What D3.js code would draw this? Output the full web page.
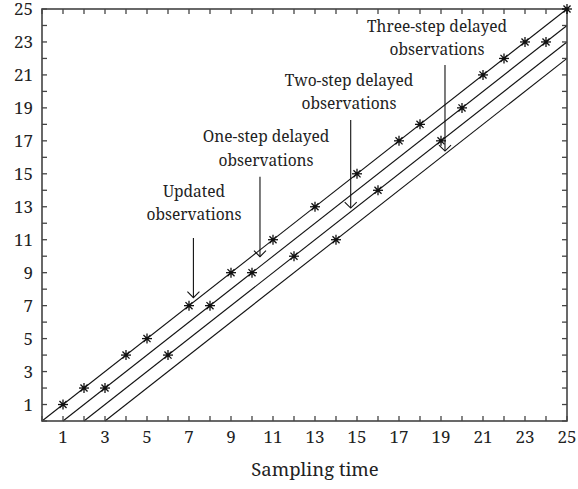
<!DOCTYPE html>
<html><head><meta charset="utf-8">
<script src="https://cdn.jsdelivr.net/npm/d3@7"></script>
<style>body{margin:0;background:#fff}svg{display:block}</style>
</head><body><svg id="c" width="578" height="489"></svg>
<script>
// Data
const sampleTimes = [1,2,3,4,5,6,7,8,9,10,11,12,13,14,15,16,17,18,19,20,21,22,23,24,25];
const observations = [1,2,2,4,5,4,7,7,9,9,11,10,13,11,15,14,17,18,17,19,21,22,23,23,25];
const delays = [0,1,2,3];
const xTickLabels = [1,3,5,7,9,11,13,15,17,19,21,23,25];
const yTickLabels = [1,3,5,7,9,11,13,15,17,19,21,23,25];
const xLabel = "Sampling time";
const annLines1 = ["Updated","One-step delayed","Two-step delayed","Three-step delayed"];
const annLines2 = ["observations","observations","observations","observations"];
const annArrowX = [7.21,10.38,14.7,19.19];
const annArrowTop = [11.10,14.82,18.26,21.60];
const annArrowTip = [7.48,9.97,12.92,16.38];
const annTextX = [7.24,10.67,14.62,18.81];
const annBase1 = [13.61,16.91,20.33,23.63];
const annBase2 = [12.20,15.49,18.91,22.21];

const svg = d3.select("#c");
const L=42,R=567,T=9,B=421;
const x = d3.scaleLinear().domain([0,25]).range([L,R]);
const y = d3.scaleLinear().domain([0,25]).range([B,T]);
const axisColor="#444";

function label(px,py,str,size,anchor){
  return svg.append("text").attr("x",px).attr("y",py).attr("text-anchor",anchor)
    .attr("font-family","Noto Serif").attr("font-size",size).attr("fill","#222").text(String(str));
}

// diagonal lines
delays.forEach(d=>{
  svg.append("line").attr("x1",x(d)).attr("y1",y(0)).attr("x2",x(25)).attr("y2",y(25-d))
    .attr("stroke","#111").attr("stroke-width",1.1);
});

// frame + ticks
const g = svg.append("g");
const ticks = d3.range(0,26);
const tl=5;
ticks.forEach(t=>{
  g.append("line").attr("x1",x(t)).attr("x2",x(t)).attr("y1",B).attr("y2",B-tl).attr("stroke",axisColor).attr("stroke-width",1.3);
  g.append("line").attr("x1",x(t)).attr("x2",x(t)).attr("y1",T).attr("y2",T+tl).attr("stroke",axisColor).attr("stroke-width",1.3);
  g.append("line").attr("y1",y(t)).attr("y2",y(t)).attr("x1",L).attr("x2",L+tl).attr("stroke",axisColor).attr("stroke-width",1.3);
  g.append("line").attr("y1",y(t)).attr("y2",y(t)).attr("x1",R).attr("x2",R-tl).attr("stroke",axisColor).attr("stroke-width",1.3);
});
g.append("rect").attr("x",L).attr("y",T).attr("width",R-L).attr("height",B-T)
  .attr("fill","none").attr("stroke",axisColor).attr("stroke-width",1.6);

// tick labels
xTickLabels.forEach(t=>label(x(t),443,t,17,"middle"));
yTickLabels.forEach(t=>label(33,y(t)+6,t,17,"end"));
label(315,476,xLabel,18.5,"middle");

// markers
const star = (cx,cy)=>{
  const s=svg.append("g").attr("transform",`translate(${cx},${cy})`);
  const r=5;
  [0,45,90,135].forEach(a=>{
    const rad=a*Math.PI/180;
    s.append("line").attr("x1",-r*Math.cos(rad)).attr("y1",-r*Math.sin(rad)).attr("x2",r*Math.cos(rad)).attr("y2",r*Math.sin(rad))
      .attr("stroke","#111").attr("stroke-width",1.3);
  });
  s.append("circle").attr("r",1.8).attr("fill","#111");
};
sampleTimes.forEach((t,i)=>star(x(t),y(observations[i])));

// annotations
annLines1.forEach((l1,i)=>{
  label(x(annTextX[i]),y(annBase1[i]),l1,15.5,"middle");
  label(x(annTextX[i]),y(annBase2[i]),annLines2[i],15.5,"middle");
  const ax=x(annArrowX[i]), ty=y(annArrowTip[i]);
  svg.append("line").attr("x1",ax).attr("x2",ax).attr("y1",y(annArrowTop[i])).attr("y2",ty).attr("stroke","#111").attr("stroke-width",1.1);
  svg.append("path").attr("d",`M${ax-6},${ty-6}L${ax},${ty}L${ax+6},${ty-6}`).attr("fill","none").attr("stroke","#111").attr("stroke-width",1.1);
});
</script></body></html>
